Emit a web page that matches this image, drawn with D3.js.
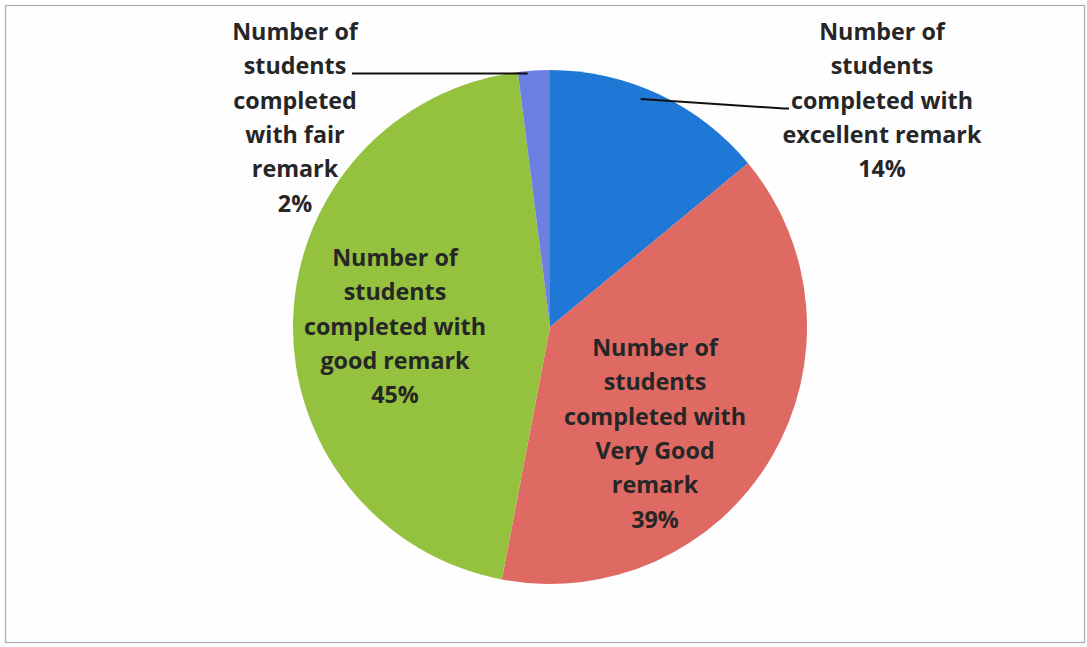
<!DOCTYPE html>
<html>
<head>
<meta charset="utf-8">
<script src="https://cdn.jsdelivr.net/npm/d3@7"></script>
<style>
  html, body { margin: 0; padding: 0; background: #fdfdfc; }
  svg { display: block; }
  text { font-family: "Open Sans", Lato, sans-serif; font-weight: 700; fill: #262626; }
</style>
</head>
<body>
<svg id="chart" width="1087" height="647"></svg>
<script>
// ---- data ----
const categories = [
  "Number of students completed with excellent remark",
  "Number of students completed with Very Good remark",
  "Number of students completed with good remark",
  "Number of students completed with fair remark"
];
const values = [14, 39, 45, 2];
const percentLabels = ["14%", "39%", "45%", "2%"];
const labelLines = [
  ["Number of", "students", "completed with", "excellent remark", "14%"],
  ["Number of", "students", "completed with", "Very Good", "remark", "39%"],
  ["Number of", "students", "completed with", "good remark", "45%"],
  ["Number of", "students", "completed", "with fair", "remark", "2%"]
];
const colors = ["#1f77d6", "#de6a63", "#94c23f", "#6b80e0"];

// ---- layout ----
const W = 1087, H = 647;
const cx = 550, cy = 327, R = 257;
const fontSize = 23.3, lineH = 34.3;
// label centre x and first-line baseline y
const labelPos = [
  {x: 882, y: 40},
  {x: 655, y: 356},
  {x: 395, y: 266},
  {x: 295, y: 40}
];

const svg = d3.select("#chart");

svg.append("rect")
  .attr("x", 5.5).attr("y", 5.5)
  .attr("width", W - 8).attr("height", H - 10)
  .attr("fill", "#fefefe")
  .attr("stroke", "#a9acb3").attr("stroke-width", 1.2);

const pie = d3.pie().sort(null).value(d => d)(values);
const arc = d3.arc().innerRadius(0).outerRadius(R);

const g = svg.append("g").attr("transform", `translate(${cx},${cy})`);
g.selectAll("path.slice")
  .data(pie)
  .join("path")
  .attr("class", "slice")
  .attr("d", arc)
  .attr("fill", (d, i) => colors[i]);

// leader lines (from slice to label)
function slicePoint(d, frac, rf) {
  const a = d.startAngle + (d.endAngle - d.startAngle) * frac;
  return [cx + R * rf * Math.sin(a), cy - R * rf * Math.cos(a)];
}
const pEx = slicePoint(pie[0], 0.43, 0.955);
svg.append("path")
  .attr("d", `M${pEx[0]},${pEx[1]} L784,108.5 L789,108.5`)
  .attr("fill", "none").attr("stroke", "#111").attr("stroke-width", 2);
const pFa = slicePoint(pie[3], 0.3, 0.99);
svg.append("path")
  .attr("d", `M${pFa[0]},${pFa[1]} L352,${pFa[1]}`)
  .attr("fill", "none").attr("stroke", "#111").attr("stroke-width", 2);

// labels
labelLines.forEach((lines, i) => {
  const t = svg.append("text")
    .attr("text-anchor", "middle")
    .attr("font-size", fontSize);
  lines.forEach((s, k) => {
    t.append("tspan")
      .attr("x", labelPos[i].x)
      .attr("y", labelPos[i].y + k * lineH)
      .text(s);
  });
});
</script>
</body>
</html>
